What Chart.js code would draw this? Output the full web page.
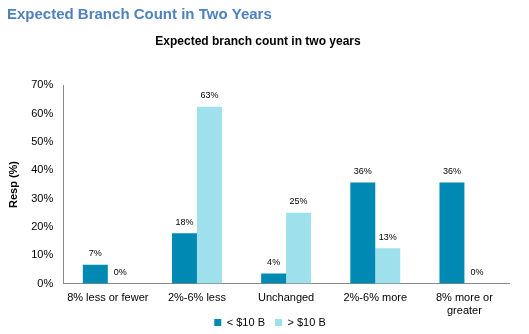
<!DOCTYPE html>
<html>
<head>
<meta charset="utf-8">
<script src="https://cdn.jsdelivr.net/npm/chart.js@4"></script>
<style>
  html, body { margin: 0; padding: 0; background: #fff; }
  #wrap { width: 529px; height: 334px; }
</style>
</head>
<body>
<div id="wrap"><canvas id="branchChart"></canvas></div>
<script>
const categories = [['8% less or fewer'], ['2%-6% less'], ['Unchanged'], ['2%-6% more'], ['8% more or', 'greater']];
const smallBanks = [6.7, 17.8, 3.6, 35.7, 35.7];
const largeBanks = [0, 62.5, 25, 12.5, 0];
const seriesNames = ['< $10 B', '> $10 B'];
const yTicks = [0, 10, 20, 30, 40, 50, 60, 70];

// draw rounded value labels over each bar
const valueLabels = {
    id: 'valueLabels',
    afterDatasetsDraw(chart) {
        const ctx = chart.ctx;
        ctx.save();
        ctx.font = '9px Arial, "Liberation Sans"';
        ctx.fillStyle = '#000';
        ctx.textAlign = 'center';
        ctx.textBaseline = 'middle';
        chart.data.datasets.forEach(function(ds, i) {
            chart.getDatasetMeta(i).data.forEach(function(bar, j) {
                ctx.fillText(Math.round(ds.data[j]) + '%', bar.x, bar.y - 11);
            });
        });
        ctx.restore();
    }
};

// legend sits tight under the axis labels (shorter box, drawn a bit higher, no clip)
const tightLegend = {
    id: 'tightLegend',
    beforeInit(chart) {
        const legend = chart.legend;
        const fit = legend.fit;
        legend.fit = function() {
            fit.call(this);
            this.height -= 23;
        };
        legend.draw = function() {
            if (!this.options.display) return;
            this.ctx.save();
            this.ctx.translate(12, -19);
            this._draw();
            this.ctx.restore();
        };
    }
};

document.addEventListener('DOMContentLoaded', function() {
    const ctx = document.getElementById('branchChart').getContext('2d');
    new Chart(ctx, {
        type: 'bar',
        data: {
            labels: categories,
            datasets: [{
                label: seriesNames[0],
                data: smallBanks,
                backgroundColor: '#0089B3'
            }, {
                label: seriesNames[1],
                data: largeBanks,
                backgroundColor: '#9EE0EC'
            }]
        },
        options: {
            responsive: true,
            maintainAspectRatio: false,
            animation: false,
            layout: { padding: { left: 7, right: 20, top: 4, bottom: 0 } },
            datasets: {
                bar: { barPercentage: 1, categoryPercentage: 0.56 }
            },
            scales: {
                x: {
                    grid: { display: false, drawTicks: false },
                    border: { color: '#888' },
                    ticks: {
                        color: '#000',
                        padding: 8,
                        maxRotation: 0,
                        autoSkip: false,
                        font: { family: 'Arial, "Liberation Sans"', size: 11 }
                    }
                },
                y: {
                    min: 0,
                    max: 70,
                    afterBuildTicks: function(axis) {
                        axis.ticks = yTicks.map(function(v) { return { value: v }; });
                    },
                    grid: { display: false, drawTicks: false },
                    border: { color: '#888' },
                    title: {
                        display: true,
                        text: 'Resp (%)',
                        color: '#000',
                        font: { family: 'Arial, "Liberation Sans"', size: 11, weight: 'bold' },
                        padding: { top: 0, bottom: 1 }
                    },
                    ticks: {
                        color: '#000',
                        padding: 10,
                        font: { family: 'Arial, "Liberation Sans"', size: 11 },
                        callback: function(v) { return v + '%'; }
                    }
                }
            },
            plugins: {
                title: {
                    display: true,
                    text: 'Expected Branch Count in Two Years',
                    align: 'start',
                    color: '#4F81BD',
                    font: { family: 'Arial, "Liberation Sans"', size: 15, weight: 'bold' },
                    padding: { top: 2, bottom: 10 }
                },
                subtitle: {
                    display: true,
                    text: 'Expected branch count in two years',
                    color: '#000',
                    font: { family: 'Arial, "Liberation Sans"', size: 12, weight: 'bold' },
                    padding: { bottom: 37 }
                },
                legend: {
                    position: 'bottom',
                    labels: {
                        color: '#000',
                        boxWidth: 7,
                        boxHeight: 7,
                        padding: 10,
                        font: { family: 'Arial, "Liberation Sans"', size: 11 }
                    }
                },
                tooltip: { enabled: false }
            }
        },
        plugins: [valueLabels, tightLegend]
    });
});
</script>
</body>
</html>
